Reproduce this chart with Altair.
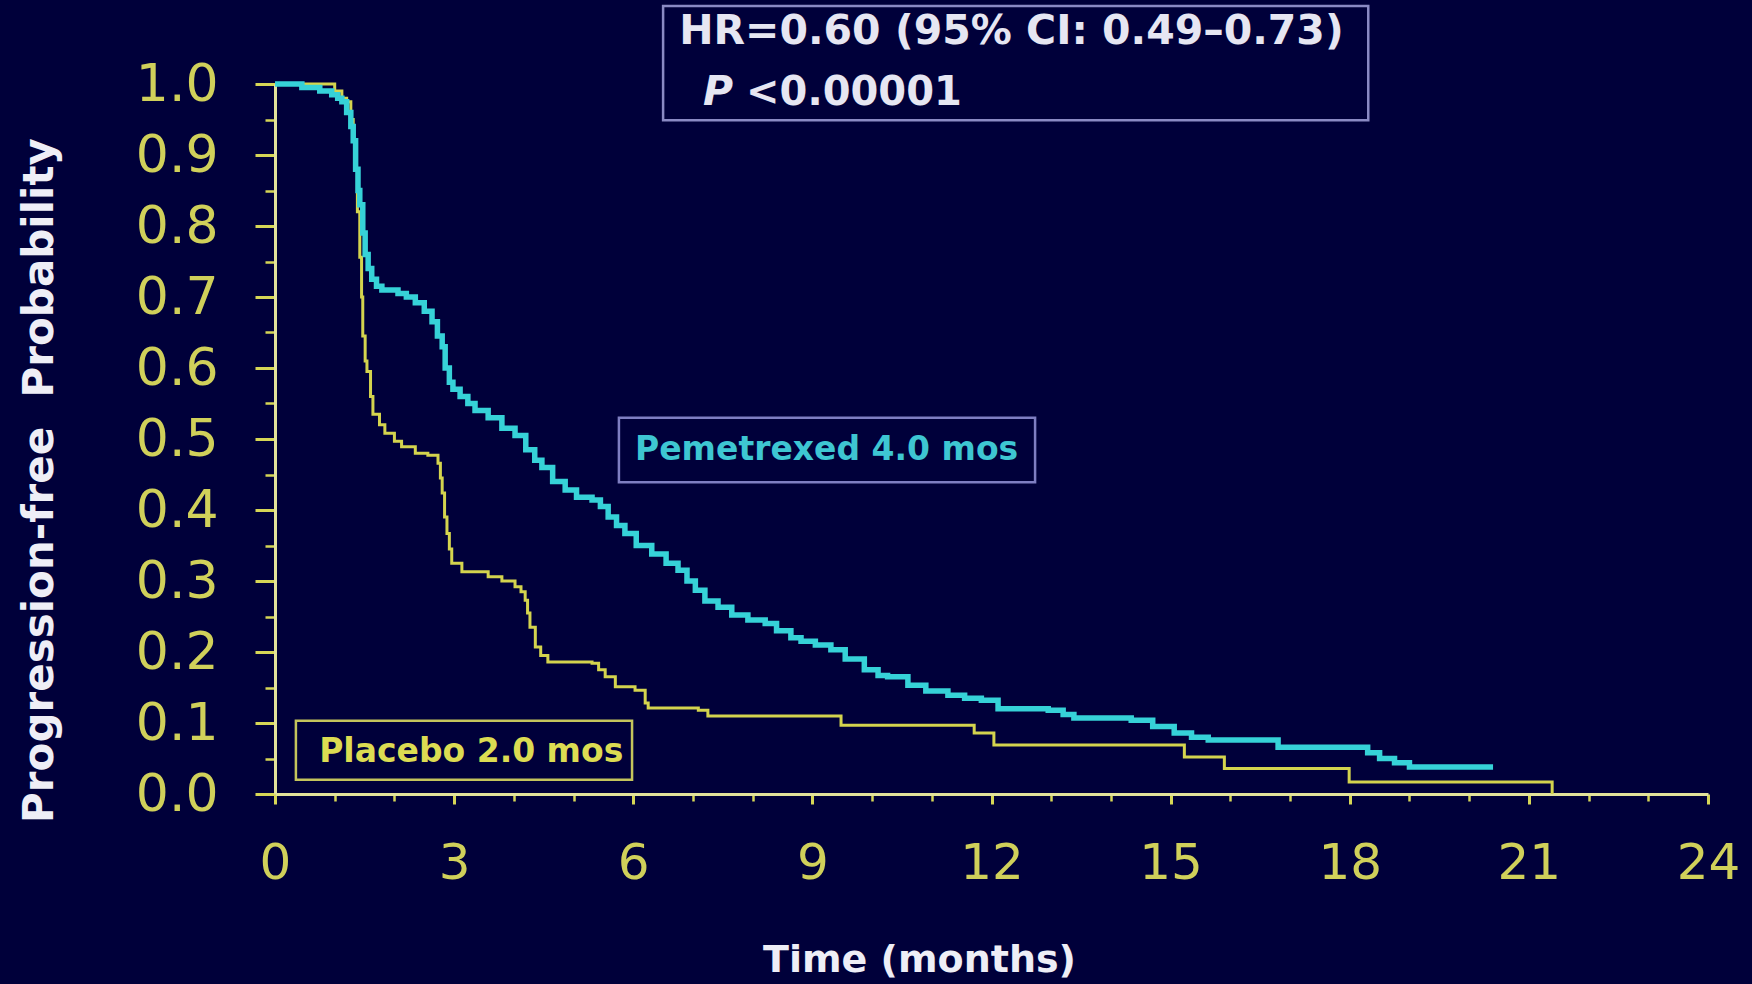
import altair as alt
import pandas as pd

# Kaplan-Meier progression-free survival estimates (time in months, probability)
pem_months = [0.0, 0.45, 0.75, 0.95, 1.05, 1.12, 1.2, 1.27, 1.31, 1.35, 1.39, 1.42, 1.47, 1.51,
              1.56, 1.62, 1.70, 1.79, 2.06, 2.2, 2.35, 2.5, 2.63, 2.72, 2.80, 2.85, 2.92, 2.98,
              3.1, 3.23, 3.35, 3.57, 3.8, 4.02, 4.2, 4.35, 4.47, 4.65, 4.86, 5.05, 5.31, 5.45,
              5.58, 5.72, 5.86, 6.05, 6.31, 6.55, 6.75, 6.9, 7.04, 7.2, 7.42, 7.65, 7.92, 8.21,
              8.4, 8.64, 8.81, 9.05, 9.31, 9.55, 9.87, 10.1, 10.26, 10.6, 10.9, 11.27, 11.55,
              11.83, 12.11, 12.95, 13.2, 13.38, 14.34, 14.7, 15.06, 15.35, 15.63, 16.8, 18.12,
              18.3, 18.5, 18.75, 19.0, 20.4]
pem_surv = [1.0, 0.995, 0.99, 0.985, 0.98, 0.975, 0.96, 0.94, 0.92, 0.88, 0.85, 0.83, 0.79, 0.76,
            0.74, 0.725, 0.715, 0.71, 0.705, 0.70, 0.692, 0.68, 0.665, 0.645, 0.63, 0.60, 0.58, 0.57,
            0.56, 0.55, 0.54, 0.53, 0.515, 0.505, 0.485, 0.47, 0.46, 0.44, 0.428, 0.418, 0.414, 0.405,
            0.39, 0.378, 0.367, 0.35, 0.338, 0.325, 0.315, 0.30, 0.287, 0.272, 0.263, 0.252, 0.245, 0.24,
            0.23, 0.22, 0.215, 0.21, 0.203, 0.19, 0.175, 0.167, 0.165, 0.153, 0.145, 0.139, 0.135,
            0.132, 0.12, 0.118, 0.112, 0.107, 0.104, 0.095, 0.086, 0.08, 0.076, 0.066, 0.066,
            0.058, 0.05, 0.044, 0.038, 0.038]

pbo_months = [0.0, 0.89, 1.0, 1.12, 1.2, 1.27, 1.31, 1.34, 1.38, 1.42, 1.45, 1.47, 1.51, 1.54,
              1.6, 1.64, 1.75, 1.84, 2.0, 2.12, 2.35, 2.56, 2.73, 2.77, 2.80, 2.84, 2.88, 2.92,
              2.96, 3.13, 3.57, 3.8, 4.02, 4.12, 4.19, 4.23, 4.27, 4.36, 4.45, 4.57, 5.31, 5.42,
              5.53, 5.70, 6.03, 6.20, 6.25, 7.09, 7.25, 9.48, 11.71, 12.04, 15.23, 15.9, 17.99, 21.39]
pbo_surv = [1.0, 1.0, 0.99, 0.98, 0.975, 0.95, 0.92, 0.88, 0.82, 0.756, 0.70, 0.645, 0.61, 0.595,
            0.56, 0.535, 0.52, 0.508, 0.497, 0.489, 0.48, 0.477, 0.466, 0.445, 0.424, 0.39, 0.367, 0.345,
            0.325, 0.313, 0.306, 0.30, 0.292, 0.285, 0.273, 0.255, 0.235, 0.207, 0.195, 0.186, 0.184, 0.175,
            0.165, 0.151, 0.146, 0.128, 0.121, 0.118, 0.11, 0.097, 0.086, 0.069, 0.052, 0.036, 0.017, 0.0]

# Axis tick positions
x_major = [0, 3, 6, 9, 12, 15, 18, 21, 24]
x_minor = [1, 2, 4, 5, 7, 8, 10, 11, 13, 14, 16, 17, 19, 20, 22, 23]
y_major = [0.0, 0.1, 0.2, 0.3, 0.4, 0.5, 0.6, 0.7, 0.8, 0.9, 1.0]
y_minor = [0.05, 0.15, 0.25, 0.35, 0.45, 0.55, 0.65, 0.75, 0.85, 0.95]

# Annotation boxes (data coordinates)
box_x0 = [6.50, 5.76, 0.35]
box_x1 = [18.31, 12.73, 5.98]
box_y0 = [1.110, 0.530, 0.103]
box_y1 = [0.949, 0.439, 0.020]
box_stroke = ["#8a8ac4", "#7e7ec2", "#c4c45c"]

# Annotation texts
note_text = ["HR=0.60 (95% CI: 0.49\u20130.73)", "<0.00001", "Pemetrexed 4.0 mos", "Placebo 2.0 mos"]
note_x = [6.77, 7.89, 6.03, 0.74]
note_y = [1.073, 0.987, 0.4845, 0.059]
note_size = [41, 40, 33, 33]
note_color = ["#e6e6f2", "#e6e6f2", "#3ec6d2", "#dcdc52"]

BG = "#00003a"
AXIS_LINE = "#e2e29a"
TICK = "#d6d656"
LABEL = "#d0d05a"
TITLE = "#eeeef6"

pem = pd.DataFrame({"month": pem_months, "surv": pem_surv})
pbo = pd.DataFrame({"month": pbo_months, "surv": pbo_surv})
boxes = pd.DataFrame({"x0": box_x0, "x1": box_x1, "y0": box_y0, "y1": box_y1, "stroke": box_stroke})
notes = pd.DataFrame({"label": note_text, "x": note_x, "y": note_y, "size": note_size, "color": note_color})
p_note = pd.DataFrame({"label": ["P"], "x": [7.17], "y": [0.987]})

x_scale = alt.Scale(domain=[0, 24], nice=False, zero=False)
y_scale = alt.Scale(domain=[0, 1], nice=False, zero=False)

x_axis = alt.Axis(
    orient="bottom", values=x_major, format="d", grid=False,
    domainColor=AXIS_LINE, domainWidth=3,
    tickColor=TICK, tickWidth=3, tickSize=10,
    labelFont="DejaVu Sans", labelFontSize=50, labelColor=LABEL,
    labelPadding=34, labelFlush=False, labelOverlap=False,
    title="Time (months)", titleFont="DejaVu Sans", titleFontWeight="bold",
    titleFontSize=38, titleColor=TITLE, titleX=644, titleY=166,
    titleAlign="center", titleBaseline="middle",
)
y_axis = alt.Axis(
    orient="left", values=y_major, format=".1f", grid=False,
    domainColor=AXIS_LINE, domainWidth=3,
    tickColor=TICK, tickWidth=3, tickSize=20,
    labelFont="DejaVu Sans", labelFontSize=52, labelColor=LABEL,
    labelPadding=37, labelOverlap=False,
    title="Progression-free\u00a0 Probability", titleFont="DejaVu Sans", titleFontWeight="bold",
    titleFontSize=42, titleColor=TITLE, titleAngle=270, titleX=-236, titleY=396,
    titleAlign="center", titleBaseline="middle",
)
x_minor_axis = alt.Axis(values=x_minor, labels=False, domain=False, grid=False, tickColor=TICK,
                        tickWidth=2.5, tickSize=7, title="", orient="bottom")
y_minor_axis = alt.Axis(values=y_minor, labels=False, domain=False, grid=False, tickColor=TICK,
                        tickWidth=2.5, tickSize=10, title="", orient="left")

placebo_line = alt.Chart(pbo).mark_line(interpolate="step-after", color="#d4d44e", strokeWidth=3).encode(
    x=alt.X("month:Q", scale=x_scale, axis=x_axis),
    y=alt.Y("surv:Q", scale=y_scale, axis=y_axis),
)

pem_line = alt.Chart(pem).mark_line(interpolate="step-after", color="#36d2d8", strokeWidth=5.5).encode(
    x=alt.X("month:Q", scale=x_scale, axis=None),
    y=alt.Y("surv:Q", scale=y_scale, axis=None),
)

minor_ticks = alt.Chart(pem).mark_point(opacity=0).encode(
    x=alt.X("month:Q", scale=x_scale, axis=x_minor_axis),
    y=alt.Y("surv:Q", scale=y_scale, axis=y_minor_axis),
)

box_layer = alt.Chart(boxes).mark_rect(fillOpacity=0, strokeWidth=2.5).encode(
    x=alt.X("x0:Q", scale=x_scale, axis=None),
    x2="x1:Q",
    y=alt.Y("y0:Q", scale=y_scale, axis=None),
    y2="y1:Q",
    stroke=alt.Stroke("stroke:N", scale=None),
)

note_layer = alt.Chart(notes).mark_text(align="left", baseline="middle", font="DejaVu Sans",
                                        fontWeight="bold").encode(
    x=alt.X("x:Q", scale=x_scale, axis=None),
    y=alt.Y("y:Q", scale=y_scale, axis=None),
    text="label:N",
    size=alt.Size("size:Q", scale=None),
    color=alt.Color("color:N", scale=None),
)

p_layer = alt.Chart(p_note).mark_text(align="left", baseline="middle", font="DejaVu Sans",
                                      fontWeight="bold", fontStyle="italic", fontSize=41,
                                      color="#e6e6f2").encode(
    x=alt.X("x:Q", scale=x_scale, axis=None),
    y=alt.Y("y:Q", scale=y_scale, axis=None),
    text="label:N",
)

chart = alt.layer(
    minor_ticks, placebo_line, pem_line, box_layer, note_layer, p_layer
).resolve_axis(
    x="independent", y="independent"
).properties(
    width=1433, height=710,
    padding={"left": 275, "top": 84, "right": 44, "bottom": 190},
    autosize=alt.AutoSizeParams(type="none"),
    background=BG,
).configure_view(strokeWidth=0)

chart.save("out.html", embed_options={"renderer": "svg", "actions": False})
